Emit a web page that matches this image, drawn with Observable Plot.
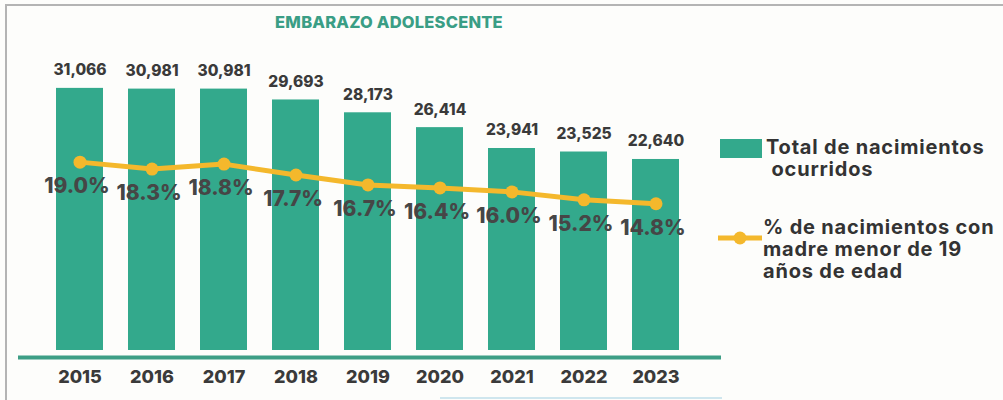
<!DOCTYPE html>
<html>
<head>
<meta charset="utf-8">
<script src="https://cdn.jsdelivr.net/npm/d3@7"></script>
<script src="https://cdn.jsdelivr.net/npm/@observablehq/plot@0.6"></script>
<style>
  html, body { margin: 0; padding: 0; background: #fdfdfb; }
  #wrap { position: relative; width: 1003px; height: 400px; overflow: hidden; background: #fdfdfb; font-family: Inter, "Open Sans", sans-serif; }
  #frame { position: absolute; left: 5px; top: 4px; width: 1010px; height: 410px; border-top: 2px solid #b4b4b4; border-left: 2px solid #b4b4b4; pointer-events: none; }
  #blue { position: absolute; left: 440px; top: 397px; width: 282px; height: 2px; background: #cfe6ee; }
  #title { position: absolute; left: 0; width: 778px; top: 12px; text-align: center; color: #3a9e85; font-weight: 800; font-size: 16.5px; letter-spacing: 0.2px; }
  #chart { position: absolute; left: 0; top: 0; }
  .leg { position: absolute; color: #333; font-weight: 700; font-size: 20px; line-height: 22px; letter-spacing: 0.8px; white-space: nowrap; }
  .sw { position: absolute; }
</style>
</head>
<body>
<div id="wrap">
  <div id="chart"></div>
  <div id="title">EMBARAZO ADOLESCENTE</div>
  <div class="sw" style="left:720px; top:139px; width:42px; height:19px; background:#33a98c;"></div>
  <div class="leg" style="left:766px; top:136px;">Total de nacimientos<br>&nbsp;ocurridos</div>
  <svg class="sw" style="left:716px; top:228px;" width="50" height="20">
    <line x1="2" y1="10" x2="46" y2="10" stroke="#f4b82c" stroke-width="5"/>
    <circle cx="24" cy="10" r="6.5" fill="#f4b82c"/>
  </svg>
  <div class="leg" style="left:763px; top:216px;">% de nacimientos con<br>madre menor de 19<br>años de edad</div>
  <div id="frame"></div>
  <div id="blue"></div>
</div>
<script>
const years = ["2015","2016","2017","2018","2019","2020","2021","2022","2023"];
const births = [31066, 30981, 30981, 29693, 28173, 26414, 23941, 23525, 22640];
const pctTeen = [19.0, 18.3, 18.8, 17.7, 16.7, 16.4, 16.0, 15.2, 14.8];

const k = 1175; // maps percent onto the bar value axis
const data = years.map((y, i) => ({year: y, births: births[i], pct: pctTeen[i], pctY: pctTeen[i] * k}));
const fmt = d3.format(",");
const font = "Inter, 'Open Sans', sans-serif";

const chart = Plot.plot({
  width: 1003,
  height: 400,
  marginLeft: 30,
  marginRight: 299,
  marginTop: 80,
  marginBottom: 50,
  style: {background: "transparent", fontFamily: font},
  x: {type: "band", domain: years, padding: 0.35},
  y: {domain: [0, 32000], axis: null},
  marks: [
    Plot.barY(data, {x: "year", y: "births", fill: "#33a98c"}),
    Plot.ruleY([0], {dy: 7, stroke: "#3d9e85", strokeWidth: 4, insetLeft: -12, insetRight: -17}),
    Plot.axisX({tickSize: 0, tickPadding: 20, fontSize: 18, fontWeight: 800, fill: "#3a3a3a", label: null}),
    Plot.text(data, {x: "year", y: "births", text: d => fmt(d.births), dy: -18, fontSize: 15.5, fontWeight: 800, fill: "#3a3a3a"}),
    Plot.line(data, {x: "year", y: "pctY", stroke: "#f4b82c", strokeWidth: 5}),
    Plot.dot(data, {x: "year", y: "pctY", r: 6.5, fill: "#f4b82c"}),
    Plot.text(data, {x: "year", y: "pctY", text: d => d.pct.toFixed(1) + "%", dx: -3, dy: 24, fontSize: 21, fontWeight: 800, fill: "#464646"})
  ]
});
document.getElementById("chart").appendChild(chart);
</script>
</body>
</html>
